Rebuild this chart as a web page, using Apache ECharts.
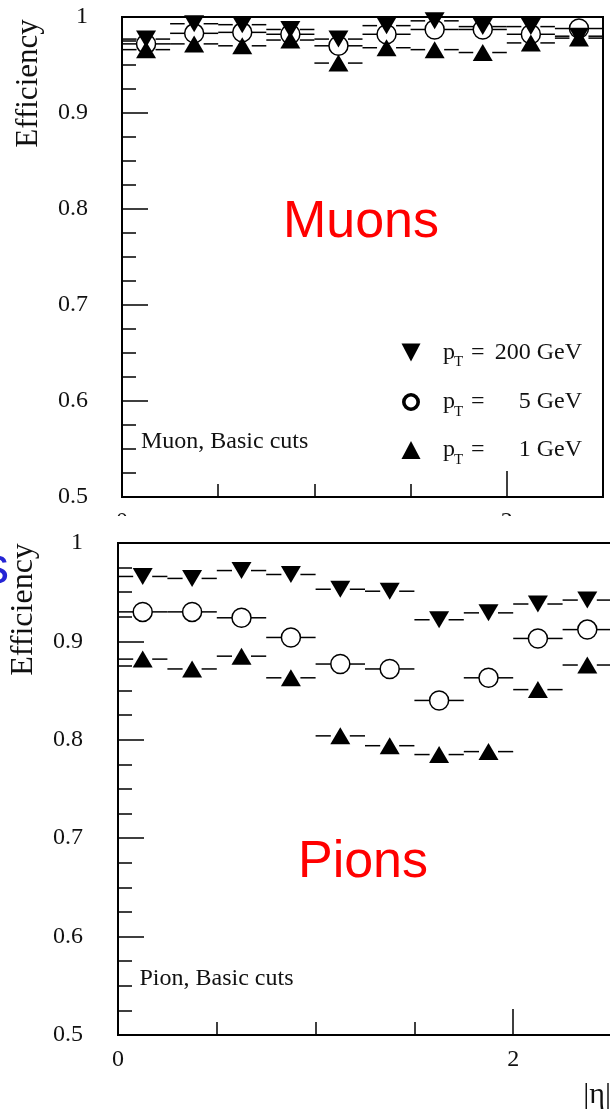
<!DOCTYPE html>
<html>
<head>
<meta charset="utf-8">
<script src="https://cdn.jsdelivr.net/npm/echarts@6/dist/echarts.min.js"></script>
<style>
  html, body { margin: 0; padding: 0; background: #fff; overflow: hidden; width: 610px; height: 1118px; position: relative; }
  #muon { position: absolute; left: 0; top: 0; width: 610px; height: 520px; }
  #pion { position: absolute; left: 0; top: 516px; width: 620px; height: 602px; background: #fff; }
</style>
</head>
<body>
<div id="muon"></div>
<div id="pion"></div>
<script>
// |eta| binning shared by both panels
const etaEdges = [0, 0.25, 0.5, 0.75, 1.0, 1.25, 1.5, 1.75, 2.0, 2.25, 2.5];

// Muon reconstruction efficiency per |eta| bin
const muonPt200 = [0.977, 0.993, 0.992, 0.987, 0.977, 0.991, 0.996, 0.990, 0.990, 0.980];
const muonPt5   = [0.972, 0.983, 0.984, 0.982, 0.970, 0.982, 0.987, 0.987, 0.982, 0.988];
const muonPt1   = [0.966, 0.972, 0.970, 0.976, 0.952, 0.968, 0.966, 0.963, 0.973, 0.978];

// Pion reconstruction efficiency per |eta| bin
const pionPt200 = [0.966, 0.964, 0.972, 0.968, 0.953, 0.951, 0.922, 0.929, 0.938, 0.942];
const pionPt5   = [0.930, 0.930, 0.924, 0.904, 0.877, 0.872, 0.840, 0.863, 0.903, 0.912];
const pionPt1   = [0.882, 0.872, 0.885, 0.863, 0.804, 0.794, 0.785, 0.788, 0.851, 0.876];

// Legend entries and axis labels
const ptLabels = ['200 GeV', '5 GeV', '1 GeV'];
const xLabelValues = [0, 2];

const SERIF = '"Liberation Serif", "Times New Roman", serif';
const SANS = '"Liberation Sans", Arial, sans-serif';
const INK = '#111';

const binCenters = etaEdges.slice(0, -1).map((lo, i) => (lo + etaEdges[i + 1]) / 2);

// horizontal bin-width bars, interrupted around the marker
function errorBars(values) {
  const gap = 9.5;
  return {
    type: 'custom', z: 2, silent: true, animation: false,
    encode: { x: [0, 2, 3], y: 1 },
    data: values.map((v, i) => [binCenters[i], v, etaEdges[i], etaEdges[i + 1]]),
    renderItem(params, api) {
      const c = api.coord([api.value(0), api.value(1)]);
      const lo = api.coord([api.value(2), api.value(1)]);
      const hi = api.coord([api.value(3), api.value(1)]);
      const st = { stroke: '#000', lineWidth: 1.5 };
      return {
        type: 'group',
        children: [
          { type: 'line', shape: { x1: lo[0], y1: c[1], x2: c[0] - gap, y2: c[1] }, style: st },
          { type: 'line', shape: { x1: c[0] + gap, y1: c[1], x2: hi[0], y2: c[1] }, style: st }
        ]
      };
    }
  };
}

function markers(name, values, kind) {
  const s = {
    name, type: 'scatter', z: 3, silent: true, animation: false,
    data: values.map((v, i) => [binCenters[i], v])
  };
  if (kind === 'down') {
    Object.assign(s, { symbol: 'triangle', symbolRotate: 180, symbolSize: [20, 17], itemStyle: { color: '#000', opacity: 1 } });
  } else if (kind === 'up') {
    Object.assign(s, { symbol: 'triangle', symbolSize: [20, 17], itemStyle: { color: '#000', opacity: 1 } });
  } else {
    Object.assign(s, { symbol: 'circle', symbolSize: 19, itemStyle: { color: 'rgba(0,0,0,0)', borderColor: '#000', borderWidth: 1.5, opacity: 1 } });
  }
  return s;
}

function axes(yMargin) {
  const axisLine = { show: true, onZero: false, lineStyle: { color: '#000', width: 2 } };
  const tickStyle = { color: '#000', width: 1.5 };
  const labelFont = { fontFamily: SERIF, fontSize: 24, color: INK };
  return {
    xAxis: [
      {
        type: 'value', min: 0, max: 2.5, interval: 0.5, position: 'bottom',
        axisLine, splitLine: { show: false },
        axisTick: { show: true, inside: true, length: 13, lineStyle: tickStyle },
        axisLabel: { show: false }
      },
      {
        type: 'value', min: 0, max: 2.5, interval: 2, position: 'bottom',
        axisLine, splitLine: { show: false },
        axisTick: { show: true, inside: true, length: 26, lineStyle: tickStyle },
        axisLabel: Object.assign({
          margin: 13, showMinLabel: true, showMaxLabel: false,
          formatter: v => (xLabelValues.some(t => Math.abs(t - v) < 1e-9) ? String(Math.round(v)) : '')
        }, labelFont)
      }
    ],
    yAxis: {
      type: 'value', min: 0.5, max: 1, interval: 0.1,
      axisLine, splitLine: { show: false }, minorSplitLine: { show: false },
      axisTick: { show: true, inside: true, length: 26, lineStyle: tickStyle },
      minorTick: { show: true, splitNumber: 4, length: 14, lineStyle: tickStyle },
      axisLabel: Object.assign({
        margin: yMargin, showMinLabel: true, showMaxLabel: true,
        formatter: v => (Math.abs(v - 1) < 1e-9 ? '1' : v.toFixed(1))
      }, labelFont)
    }
  };
}

function text(x, y, str, font, fill, align, extra) {
  return Object.assign({
    type: 'text', x, y, silent: true,
    style: { text: str, font, fill, align: align || 'left', verticalAlign: 'middle' }
  }, extra || {});
}

// legend rows: marker + "p_T = value"
function legendRows(x0, rowsY) {
  const kinds = ['down', 'circle', 'up'];
  const els = [];
  rowsY.forEach((y, i) => {
    const k = kinds[i];
    if (k === 'down') {
      els.push({ type: 'polygon', silent: true, shape: { points: [[x0 - 9.5, y - 9], [x0 + 9.5, y - 9], [x0, y + 9]] }, style: { fill: '#000' } });
    } else if (k === 'up') {
      els.push({ type: 'polygon', silent: true, shape: { points: [[x0 - 9.5, y + 9], [x0 + 9.5, y + 9], [x0, y - 9]] }, style: { fill: '#000' } });
    } else {
      els.push({ type: 'circle', silent: true, shape: { cx: x0, cy: y, r: 7.2 }, style: { fill: 'none', stroke: '#000', lineWidth: 3.6 } });
    }
    els.push(text(443, y, 'p', '24px ' + SERIF, INK));
    els.push(text(454, y + 10, 'T', '15px ' + SERIF, INK));
    els.push(text(471, y, '=', '24px ' + SERIF, INK));
    els.push(text(582, y, ptLabels[i], '24px ' + SERIF, INK, 'right'));
  });
  return els;
}

// ---- Muon panel ----
const muonChart = echarts.init(document.getElementById('muon'), null, { renderer: 'canvas' });
muonChart.setOption(Object.assign({
  animation: false,
  backgroundColor: '#fff',
  grid: { left: 122, top: 17, width: 481, height: 480, show: true, borderColor: '#000', borderWidth: 2, outerBoundsMode: 'none' },
  series: [
    errorBars(muonPt200), errorBars(muonPt5), errorBars(muonPt1),
    markers('pT = 200 GeV', muonPt200, 'down'),
    markers('pT = 5 GeV', muonPt5, 'circle'),
    markers('pT = 1 GeV', muonPt1, 'up')
  ],
  graphic: [
    text(28.5, 83.5, 'Efficiency', '31px ' + SERIF, INK, 'center', { rotation: Math.PI / 2 }),
    text(361, 223, 'Muons', '52px ' + SANS, '#ff0000', 'center'),
    text(141, 441.5, 'Muon, Basic cuts', '24px ' + SERIF, INK)
  ].concat(legendRows(411, [352.5, 402, 450]))
}, axes(34)));

// ---- Pion panel ----
const pionChart = echarts.init(document.getElementById('pion'), null, { renderer: 'canvas' });
pionChart.setOption(Object.assign({
  animation: false,
  backgroundColor: '#fff',
  grid: { left: 118, top: 27, width: 494, height: 492, show: true, borderColor: '#000', borderWidth: 2, outerBoundsMode: 'none' },
  series: [
    errorBars(pionPt200), errorBars(pionPt5), errorBars(pionPt1),
    markers('pT = 200 GeV', pionPt200, 'down'),
    markers('pT = 5 GeV', pionPt5, 'circle'),
    markers('pT = 1 GeV', pionPt1, 'up')
  ],
  graphic: [
    text(24, 93.5, 'Efficiency', '32px ' + SERIF, INK, 'center', { rotation: Math.PI / 2 }),
    text(-17, 52.7, 's', '52px ' + SANS, '#2525d5'),
    text(363, 347, 'Pions', '52px ' + SANS, '#ff0000', 'center'),
    text(139.5, 462.3, 'Pion, Basic cuts', '24px ' + SERIF, INK),
    text(611, 579, '|η|', '30px ' + SERIF, INK, 'right')
  ]
}, axes(35)));
</script>
</body>
</html>
